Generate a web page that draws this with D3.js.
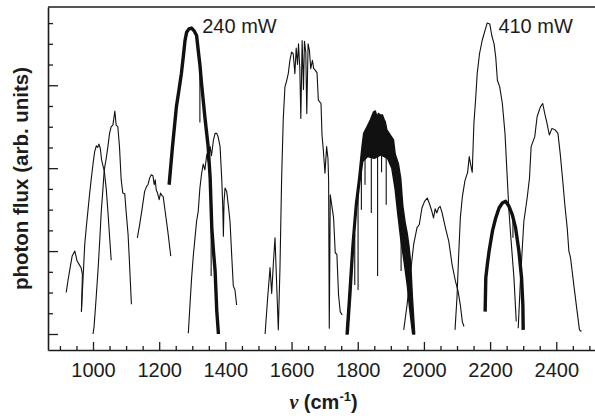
<!DOCTYPE html>
<html>
<head>
<meta charset="utf-8">
<script src="https://cdn.jsdelivr.net/npm/d3@7"></script>
<style>
	body { margin: 0; background: #fff; }
	svg { display: block; }
</style>
</head>
<body>
<div id="tuning-chart"></div>
<script>
// Tuning curves: [wavenumber (cm-1), photon flux (arb.)]
var curve950 = [[919,0.50],[925,0.66],[930,0.78],[937,0.94],[945,1.00],[952,0.88],[958,0.84],[964,0.80],[968,0.72],[965,0.27]];
var curve1010 = [[965,0.27],[970,0.68],[975,1.08],[980,1.30],[985,1.50],[990,1.70],[995,1.88],[1000,2.05],[1005,2.20],[1010,2.27],[1014,2.25],[1018,2.29],[1022,2.24],[1026,2.10],[1030,2.03],[1034,1.97],[1040,1.75],[1045,1.48],[1050,1.18],[1055,0.89]];
var curve1060 = [[1000,0.00],[1003,0.08],[1008,0.35],[1015,0.76],[1020,1.10],[1025,1.48],[1030,1.75],[1034,1.98],[1040,2.12],[1045,2.26],[1050,2.42],[1055,2.50],[1060,2.52],[1063,2.60],[1066,2.69],[1070,2.52],[1075,2.50],[1080,2.26],[1085,1.87],[1090,1.70],[1096,1.69],[1100,1.48],[1106,1.20],[1110,0.88],[1116,0.36]];
var curve1180 = [[1134,1.16],[1141,1.32],[1148,1.50],[1156,1.72],[1162,1.78],[1166,1.80],[1171,1.88],[1176,1.92],[1181,1.91],[1185,1.80],[1188,1.86],[1191,1.74],[1195,1.70],[1200,1.62],[1204,1.70],[1208,1.67],[1212,1.66],[1218,1.48],[1226,1.24],[1235,0.94]];
var curve1300 = [[1230,1.80],[1240,2.25],[1252,2.74],[1260,2.95],[1267,3.14],[1273,3.35],[1278,3.54],[1283,3.64],[1290,3.68],[1298,3.69],[1305,3.66],[1313,3.60],[1318,3.42],[1323,3.25],[1328,3.02],[1333,2.82],[1338,2.62],[1343,2.44],[1348,2.26],[1354,1.88],[1359,1.28],[1364,1.00],[1369,0.76],[1374,0.28],[1379,0.00]];
var curve1370 = [[1288,0.01],[1293,0.35],[1298,0.68],[1303,0.94],[1308,1.15],[1313,1.36],[1318,1.48],[1323,1.76],[1328,1.93],[1333,2.05],[1338,1.98],[1344,2.17],[1348,2.08],[1354,2.26],[1358,2.15],[1364,2.34],[1369,2.42],[1374,2.42],[1378,2.38],[1384,2.26],[1389,1.87],[1392,1.55],[1394,1.18],[1396,1.60],[1399,1.76],[1404,1.72],[1409,1.55],[1414,1.36],[1419,0.96],[1424,0.58],[1429,0.53],[1434,0.35]];
var curve1620 = [[1520,0.00],[1528,0.45],[1535,0.80],[1540,0.49],[1545,0.85],[1550,1.16],[1555,0.60],[1560,0.05],[1565,0.80],[1570,1.88],[1575,2.60],[1580,2.98],[1585,3.05],[1590,3.14],[1595,3.30],[1600,3.40],[1605,3.38],[1610,3.14],[1614,3.45],[1618,3.25],[1621,3.50],[1625,3.20],[1628,2.60],[1632,3.54],[1636,2.95],[1639,3.53],[1643,3.40],[1646,2.66],[1650,3.50],[1654,3.42],[1658,3.20],[1663,3.30],[1667,3.20],[1672,3.18],[1677,3.15],[1681,2.82],[1689,2.78],[1692,2.40],[1696,2.22],[1701,1.94],[1706,2.26],[1710,2.12],[1712,1.85],[1714,0.07],[1717,1.68],[1722,1.54],[1727,1.40],[1732,0.98],[1737,0.96],[1742,0.47],[1747,0.27],[1753,0.23]];
var curve1850Outer = [[1765,0.00],[1773,0.47],[1783,1.08],[1793,1.56],[1803,1.88],[1813,2.26],[1818,2.42],[1828,2.50],[1838,2.58],[1848,2.68],[1853,2.69],[1858,2.62],[1863,2.66],[1868,2.64],[1875,2.64],[1878,2.60],[1883,2.56],[1888,2.46],[1898,2.40],[1908,2.34],[1913,2.17],[1923,2.05],[1930,1.87],[1936,1.55],[1943,1.35],[1950,1.20],[1955,1.05],[1960,0.85],[1965,0.45],[1972,0.00]];
var curve1850Inner = [[1771,0.00],[1779,0.47],[1788,1.08],[1797,1.52],[1806,1.82],[1815,2.08],[1830,2.14],[1850,2.12],[1870,2.16],[1890,2.12],[1903,2.00],[1913,1.75],[1921,1.45],[1930,1.15],[1940,0.88],[1950,0.58],[1957,0.30],[1966,0.00]];
var curve2010 = [[1939,0.05],[1949,0.35],[1959,0.72],[1969,1.08],[1979,1.28],[1986,1.32],[1994,1.52],[2002,1.60],[2010,1.64],[2016,1.58],[2024,1.48],[2029,1.40],[2034,1.51],[2039,1.46],[2044,1.52],[2049,1.54],[2055,1.46],[2065,1.28],[2075,1.12],[2085,0.84],[2095,0.64],[2103,0.52],[2110,0.35],[2116,0.15],[2121,0.09]];
var curve2200 = [[2094,0.05],[2100,0.45],[2105,0.95],[2110,1.40],[2116,1.65],[2124,1.85],[2132,1.95],[2137,2.14],[2141,2.05],[2146,1.95],[2151,2.54],[2156,2.82],[2161,3.14],[2168,3.38],[2176,3.54],[2186,3.68],[2191,3.75],[2199,3.74],[2205,3.60],[2212,3.50],[2217,3.34],[2222,3.06],[2229,2.98],[2237,2.78],[2245,2.42],[2252,1.87],[2257,1.48],[2262,1.20],[2272,0.68],[2279,0.15]];
var curve2250 = [[2185,0.27],[2187,0.68],[2192,0.85],[2197,1.00],[2207,1.24],[2217,1.40],[2227,1.52],[2237,1.58],[2247,1.60],[2257,1.54],[2267,1.44],[2277,1.28],[2287,1.00],[2295,0.68],[2299,0.35],[2300,0.05]];
var curve2400 = [[2285,0.07],[2292,0.68],[2302,1.36],[2312,1.64],[2319,1.88],[2324,2.26],[2335,2.38],[2342,2.62],[2352,2.74],[2359,2.78],[2365,2.66],[2372,2.54],[2379,2.40],[2387,2.48],[2397,2.46],[2405,2.42],[2412,2.17],[2419,1.87],[2426,1.55],[2433,1.28],[2438,1.00],[2443,0.92],[2453,0.59],[2463,0.27],[2470,0.05],[2476,0.03]];

// Dropouts in the high power sweeps: [wavenumber, top, bottom]
var dropouts = [[1323,3.20,2.55],[1357,1.50,0.70],[1791,1.20,0.59],[1801,1.75,0.53],[1811,2.10,1.50],[1822,2.15,1.80],[1841,2.15,1.46],[1860,2.15,0.70],[1872,2.15,1.95],[1886,2.15,1.56],[1931,1.60,0.76],[2269,1.42,1.16]];

var thinCurves = [curve950, curve1010, curve1060, curve1180, curve1370, curve1620, curve2010, curve2200, curve2400];
var thickCurves = [curve1300, curve2250];

var xMajorTicks = [1000, 1200, 1400, 1600, 1800, 2000, 2200, 2400];
var xMinorTicks = [900, 950, 1050, 1100, 1150, 1250, 1300, 1350, 1450, 1500, 1550, 1650, 1700, 1750, 1850, 1900, 1950, 2050, 2100, 2150, 2250, 2300, 2350, 2450, 2500];
var yMajorTicks = [0, 1, 2, 3];
var yMinorTicks = [0.25, 0.5, 0.75, 1.25, 1.5, 1.75, 2.25, 2.5, 2.75, 3.25, 3.5, 3.75];

var powerLabels = ["240 mW", "410 mW"];
var powerLabelAnchors = [[1330, 3.635], [2225, 3.635]];

function tuningChart() {
	var width = 595,
		height = 418;
	var marginTop = 7,
		marginBottom = 68,
		marginLeft = 48;
	var ink = "#1c1c1c";

	var svg = d3.select("#tuning-chart").append("svg")
		.attr("width", width)
		.attr("height", height);

	var x = d3.scaleLinear().domain([864, 2520]).range([marginLeft, 596]);
	var y = d3.scaleLinear().domain([-0.193, 3.944]).range([height - marginBottom, marginTop]);

	var line = d3.line()
		.x(function (d) { return x(d[0]); })
		.y(function (d) { return y(d[1]); });

	// Frame top edge (right edge falls outside the picture)
	svg.append("line")
		.attr("x1", marginLeft).attr("x2", width + 2)
		.attr("y1", marginTop).attr("y2", marginTop)
		.attr("stroke", ink).attr("stroke-width", 1.6);

	// X axis
	var xMinor = svg.append("g")
		.attr("transform", `translate(0, ${height - marginBottom})`)
		.call(d3.axisBottom(x).tickValues(xMinorTicks).tickSize(-4).tickSizeOuter(0).tickFormat(""));
	xMinor.select(".domain").remove();
	var xAxis = svg.append("g")
		.attr("transform", `translate(0, ${height - marginBottom})`)
		.call(d3.axisBottom(x).tickValues(xMajorTicks).tickSize(-8).tickSizeOuter(0).tickPadding(13).tickFormat(d3.format("d")));
	xAxis.selectAll("text")
		.attr("font-family", "Liberation Sans, Arial, sans-serif")
		.attr("font-size", 20)
		.attr("fill", ink);

	// Y axis, no labels
	var yMinor = svg.append("g")
		.attr("transform", `translate(${marginLeft}, 0)`)
		.call(d3.axisLeft(y).tickValues(yMinorTicks).tickSize(-5).tickSizeOuter(0).tickFormat(""));
	yMinor.select(".domain").remove();
	svg.append("g")
		.attr("transform", `translate(${marginLeft}, 0)`)
		.call(d3.axisLeft(y).tickValues(yMajorTicks).tickSize(-10).tickSizeOuter(0).tickFormat(""));

	svg.selectAll(".domain").attr("stroke", ink).attr("stroke-width", 1.6);
	svg.selectAll(".tick line").attr("stroke", ink).attr("stroke-width", 1.3);

	// Curves
	var plot = svg.append("g");
	plot.selectAll(".thin")
		.data(thinCurves)
		.enter()
		.append("path")
		.attr("class", "thin")
		.attr("fill", "none")
		.attr("stroke", "#111")
		.attr("stroke-width", 1.1)
		.attr("stroke-linejoin", "round")
		.attr("d", line);

	plot.selectAll(".thick")
		.data(thickCurves)
		.enter()
		.append("path")
		.attr("class", "thick")
		.attr("fill", "none")
		.attr("stroke", "#111")
		.attr("stroke-width", 3.4)
		.attr("stroke-linejoin", "round")
		.attr("d", line);

	// Dense 1850 sweep drawn as a filled band
	var band = curve1850Outer.concat(curve1850Inner.slice().reverse());
	plot.append("path")
		.attr("fill", "#111")
		.attr("stroke", "#111")
		.attr("stroke-width", 1.5)
		.attr("stroke-linejoin", "round")
		.attr("d", line(band) + "Z");

	plot.selectAll(".dropout")
		.data(dropouts)
		.enter()
		.append("line")
		.attr("class", "dropout")
		.attr("x1", function (d) { return x(d[0]); })
		.attr("x2", function (d) { return x(d[0]); })
		.attr("y1", function (d) { return y(d[1]); })
		.attr("y2", function (d) { return y(d[2]); })
		.attr("stroke", "#111")
		.attr("stroke-width", 1.1);

	// Power labels
	svg.selectAll(".power")
		.data(powerLabels)
		.enter()
		.append("text")
		.attr("class", "power")
		.attr("x", function (d, i) { return x(powerLabelAnchors[i][0]); })
		.attr("y", function (d, i) { return y(powerLabelAnchors[i][1]); })
		.attr("font-family", "Liberation Sans, Arial, sans-serif")
		.attr("font-size", 20)
		.attr("fill", ink)
		.text(function (d) { return d; });

	// Axis titles
	svg.append("text")
		.attr("transform", "translate(28, 178.5) rotate(-90)")
		.attr("text-anchor", "middle")
		.attr("font-family", "Liberation Sans, Arial, sans-serif")
		.attr("font-weight", "bold")
		.attr("font-size", 20.5)
		.attr("fill", ink)
		.text("photon flux (arb. units)");

	var xTitle = svg.append("text")
		.attr("x", 323.5)
		.attr("y", 409)
		.attr("text-anchor", "middle")
		.attr("font-family", "Liberation Sans, Arial, sans-serif")
		.attr("font-weight", "bold")
		.attr("font-size", 20)
		.attr("fill", ink);
	xTitle.append("tspan")
		.attr("font-family", "Liberation Serif, Times New Roman, serif")
		.attr("font-style", "italic")
		.text("ν");
	xTitle.append("tspan").text(" (cm");
	xTitle.append("tspan")
		.attr("font-size", 13)
		.attr("dy", -8)
		.text("-1");
	xTitle.append("tspan")
		.attr("dy", 8)
		.text(")");
}

tuningChart();
</script>
</body>
</html>
